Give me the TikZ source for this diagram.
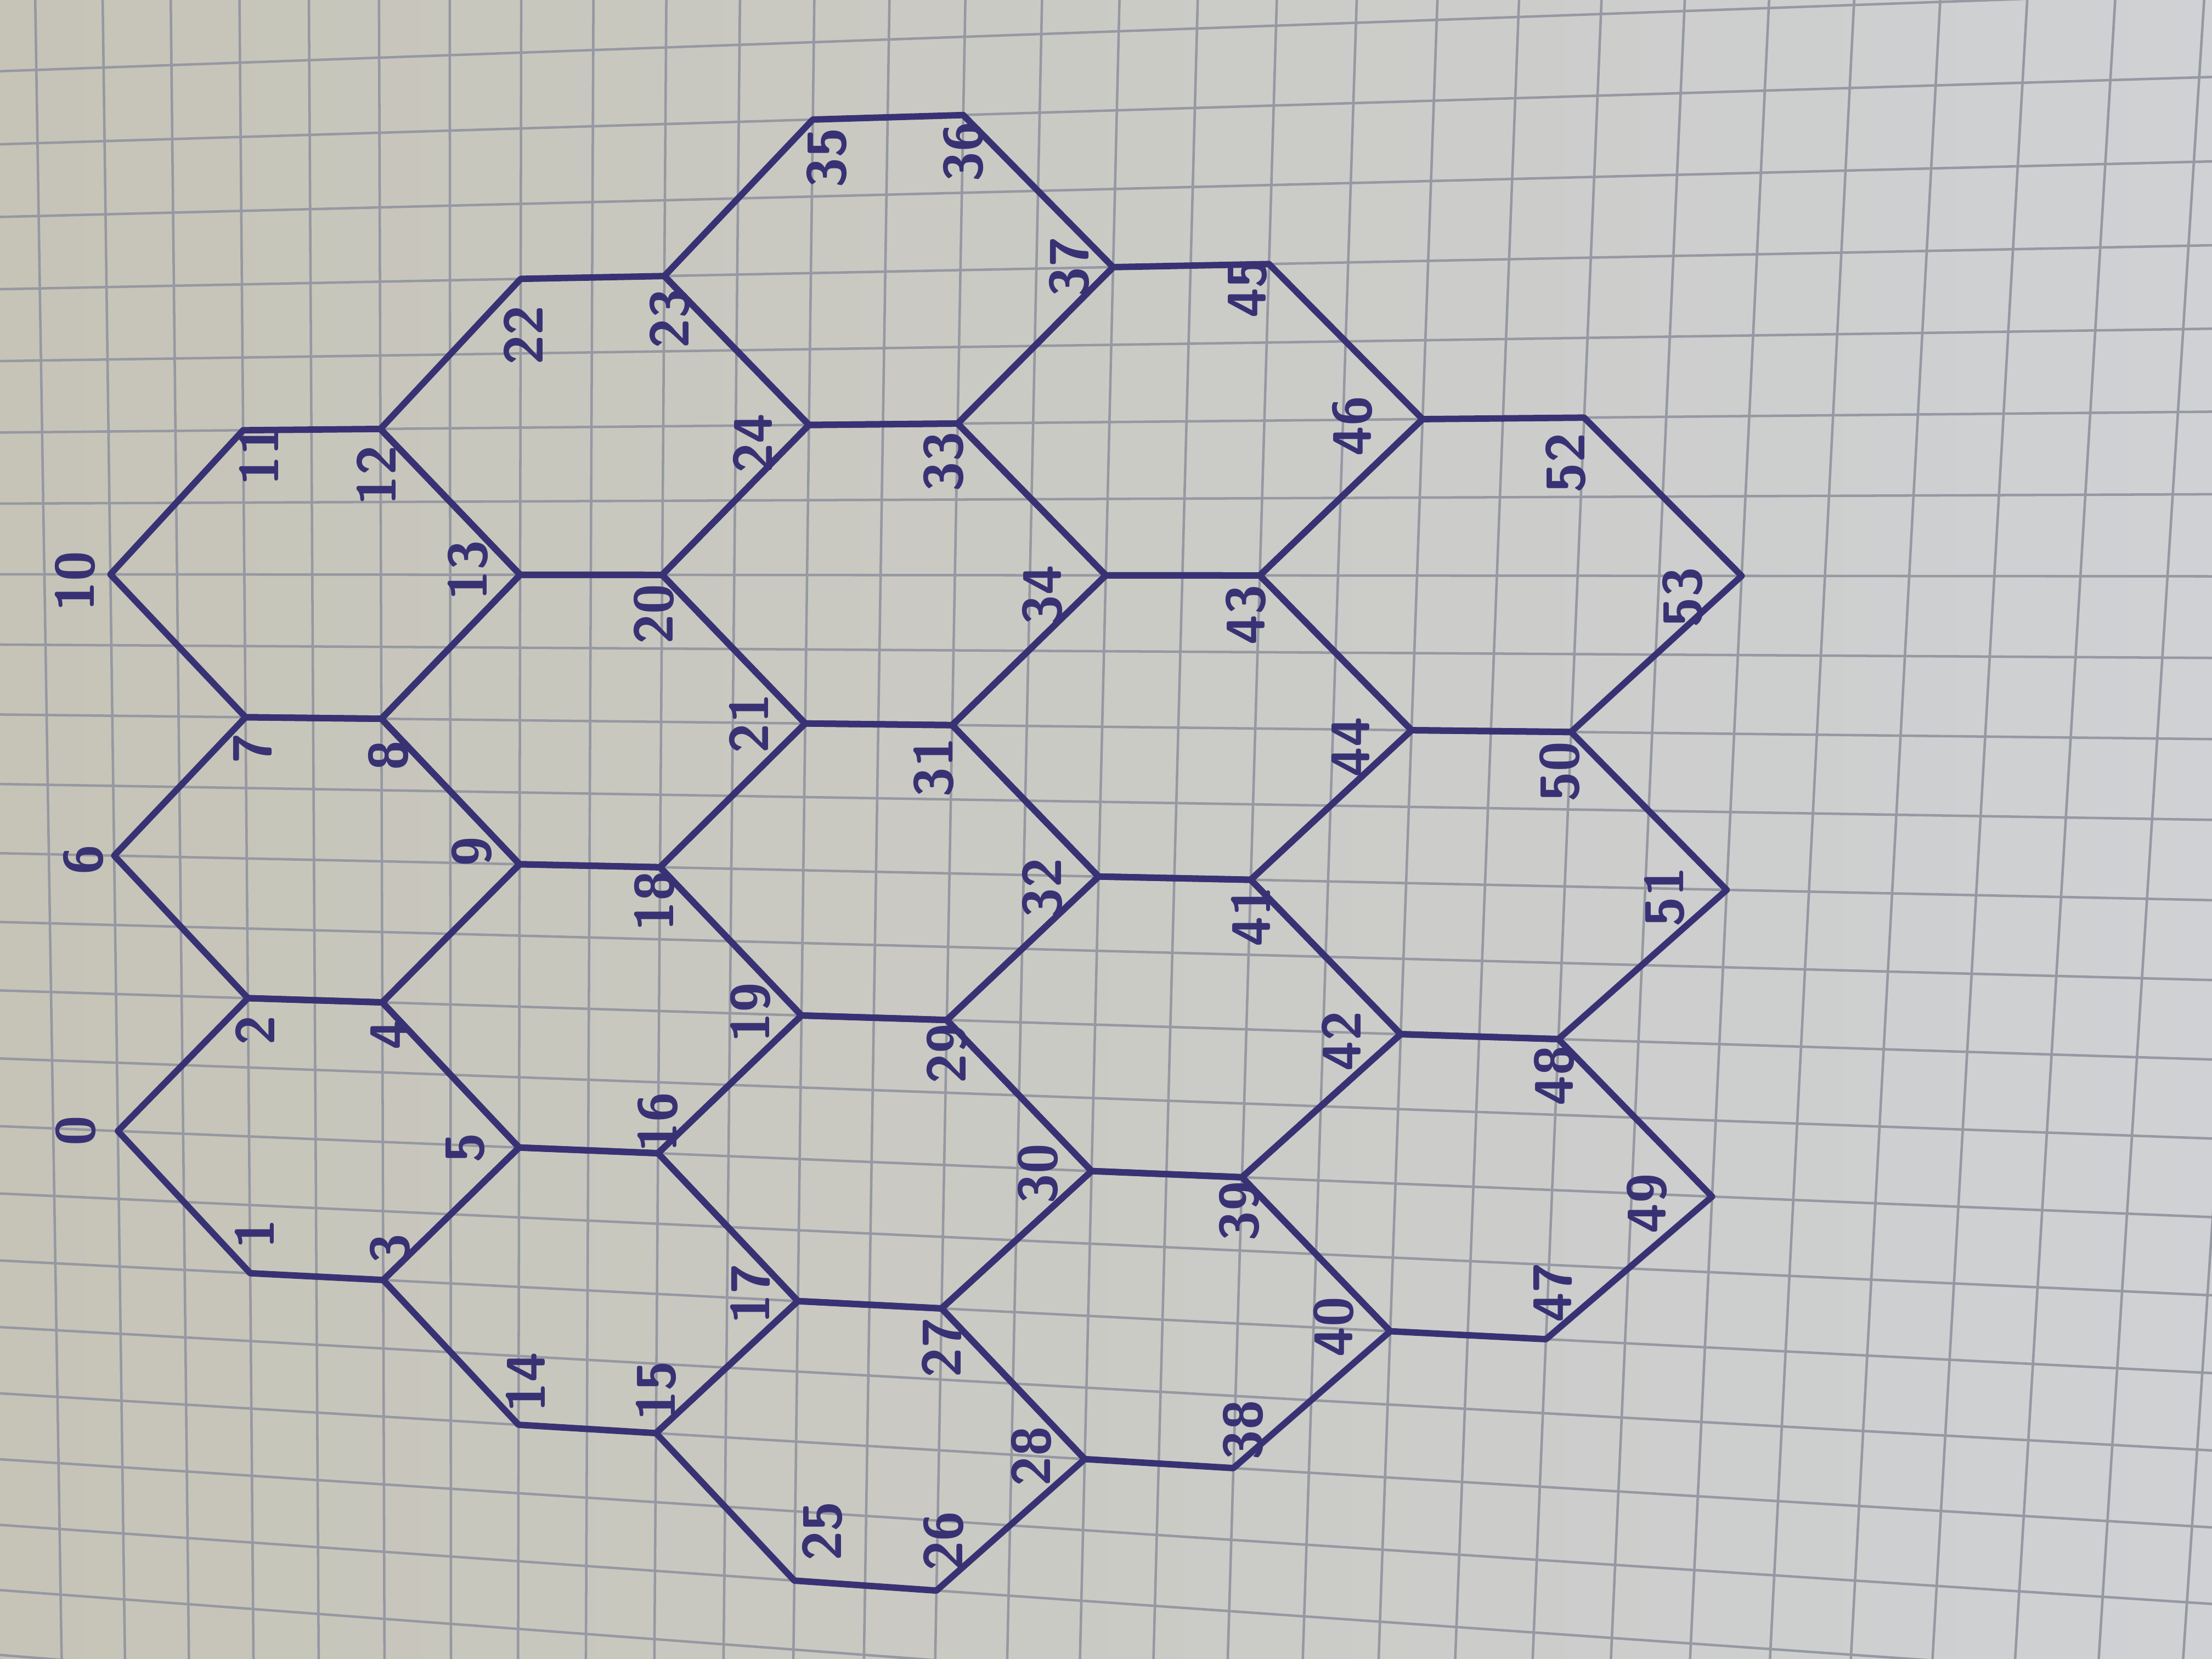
\documentclass[tikz,border=0pt]{standalone}
\usetikzlibrary{calc}
\definecolor{InkBlue}{RGB}{56,50,116}
\definecolor{GridGray}{RGB}{150,152,162}
\definecolor{PaperWarm}{RGB}{198,196,183}
\definecolor{PaperCool}{RGB}{207,209,212}

\begin{document}
\begin{tikzpicture}[x=0.01cm, y=-0.01cm,
    % squared paper seen at a slant: grid square (u,v) -> photo
    declare function={
      dd(\a,\b)=1-0.005*(\a-11)+0.00278*(\b+4);
      px(\a,\b)=621+(51.8*(\a-11)-0.8*(\b+4))/dd(\a,\b);
      py(\a,\b)=618+(1.1*(\a-11)+52*(\b+4))/dd(\a,\b);
    },
    gridline/.style={GridGray, line width=0.5pt},
    edge/.style={InkBlue, line width=1.3pt, line join=round, line cap=round},
    lbl/.style={InkBlue, rotate=90, inner sep=0pt, font=\fontsize{11}{13}\selectfont\sffamily\bfseries}]

    % Paper
    \useasboundingbox (0,0) rectangle (1568,1176);
    \shade[left color=PaperWarm, right color=PaperCool] (0,0) rectangle (1568,1176);

    % Grid
    \begin{scope}
      \clip (0,0) rectangle (1568,1176);
      \foreach \i in {-3,...,29} {
        \draw[gridline] ({px(\i,-17)},{py(\i,-17)}) -- ({px(\i,9)},{py(\i,9)});
      }
      \foreach \j in {-17,...,9} {
        \draw[gridline] ({px(-3,\j)},{py(-3,\j)}) -- ({px(29,\j)},{py(29,\j)});
      }
    \end{scope}

    % Corners (number/u/v on the paper grid)
    \foreach \n/\u/\v in {0/0/0, 1/2/2, 2/2/-2, 3/4/2, 4/4/-2, 5/6/0,
        6/0/-4, 7/2/-6, 8/4/-6, 9/6/-4, 10/0/-8, 11/2/-10, 12/4/-10,
        13/6/-8, 14/6/4, 15/8/4, 16/8/0, 17/10/2, 18/8/-4, 19/10/-2,
        20/8/-8, 21/10/-6, 22/6/-12, 23/8/-12, 24/10/-10, 25/10/6,
        26/12/6, 27/12/2, 28/14/4, 29/12/-2, 30/14/0, 31/12/-6,
        32/14/-4, 33/12/-10, 34/14/-8, 35/10/-14, 36/12/-14, 37/14/-12,
        38/16/4, 39/16/0, 40/18/2, 41/16/-4, 42/18/-2, 43/16/-8,
        44/18/-6, 45/16/-12, 46/18/-10, 47/20/2, 48/20/-2, 49/22/0,
        50/20/-6, 51/22/-4, 52/20/-10, 53/22/-8} {
      \coordinate (v\n) at ({px(\u,\v)},{py(\u,\v)});
    }

    % Hexagons, column by column
    \foreach \a/\b/\c/\d/\e/\f in {0/1/3/5/4/2, 6/2/4/9/8/7, 10/7/8/13/12/11,
        3/14/15/17/16/5, 4/5/16/19/18/9, 8/9/18/21/20/13, 12/13/20/24/23/22,
        15/25/26/28/27/17, 16/17/27/30/29/19, 18/19/29/32/31/21,
        20/21/31/34/33/24, 23/24/33/37/36/35,
        27/28/38/40/39/30, 29/30/39/42/41/32, 31/32/41/44/43/34,
        33/34/43/46/45/37,
        39/40/47/49/48/42, 41/42/48/51/50/44, 43/44/50/53/52/46} {
      \draw[edge] (v\a) -- (v\b) -- (v\c) -- (v\d) -- (v\e) -- (v\f) -- cycle;
    }

    % Labels
    \foreach \n/\dx/\dy in {0/-30/0, 1/3/-28, 2/5/23, 3/5/-22, 4/5/23,
        5/-38/0, 6/-22/3, 7/5/22, 8/5/26, 9/-34/-9, 10/-25/5, 11/11/18,
        12/-3/33, 13/-37/-3, 14/5/-30, 15/0/-30, 16/0/-22, 17/-34/-5,
        18/-4/24, 19/-36/-2, 20/-6/28, 21/-40/0, 22/2/40, 23/4/30,
        24/-40/13, 25/20/-35, 26/5/-35, 27/0/28, 28/-38/-2, 29/0/24,
        30/-38/2, 31/-13/30, 32/-40/8, 33/-10/27, 34/-45/14, 35/10/27,
        36/0/26, 37/-31/0, 38/7/-27, 39/-2/24, 40/-40/-3, 41/0/26,
        42/-42/5, 43/-10/28, 44/-43/12, 45/-15/17, 46/-50/5, 47/5/-33,
        48/-3/26, 49/-46/5, 50/-8/28, 51/-44/5, 52/-13/32, 53/-42/15} {
      \node[lbl] (l\n) at ([shift={(\dx,\dy)}]v\n) {\n};
    }
\end{tikzpicture}
\end{document}
